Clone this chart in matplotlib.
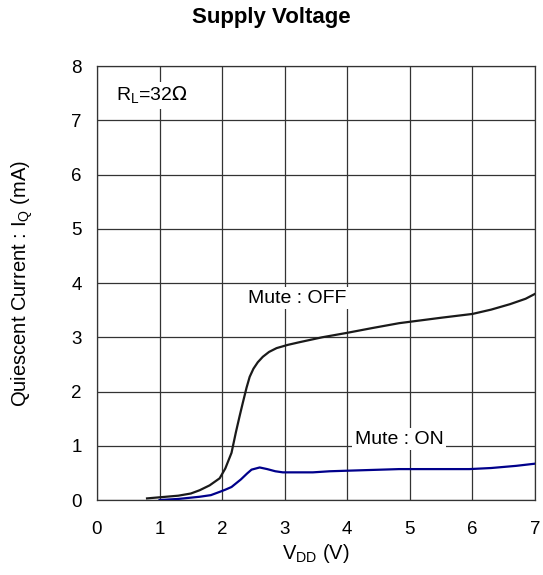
import matplotlib.pyplot as plt

plt.rcParams['font.family'] = ['Liberation Sans', 'DejaVu Sans']

# Mute : OFF curve
vdd_off = [0.8, 1.0, 1.3, 1.5, 1.64, 1.8, 1.96, 2.05, 2.15, 2.22, 2.28, 2.33, 2.39, 2.44, 2.5, 2.57,
           2.65, 2.75, 2.87, 3.05, 3.24, 3.6, 3.99, 4.4, 4.83, 5.5, 6.0, 6.3, 6.6, 6.85, 7.0]
iq_off = [0.03, 0.05, 0.08, 0.12, 0.18, 0.27, 0.40, 0.58, 0.87, 1.25, 1.55, 1.79, 2.07, 2.27, 2.42, 2.54,
          2.64, 2.73, 2.80, 2.86, 2.91, 3.00, 3.08, 3.17, 3.26, 3.36, 3.43, 3.51, 3.61, 3.71, 3.80]

# Mute : ON curve
vdd_on = [1.0, 1.3, 1.64, 1.82, 1.96, 2.05, 2.15, 2.3, 2.4, 2.47, 2.6, 2.72, 2.85, 2.97, 3.45, 3.72,
          3.99, 4.83, 5.95, 6.3, 6.7, 7.0]
iq_on = [0.0, 0.02, 0.06, 0.09, 0.15, 0.19, 0.24, 0.38, 0.49, 0.56, 0.60, 0.57, 0.53, 0.51, 0.51, 0.53,
         0.54, 0.57, 0.57, 0.59, 0.63, 0.67]

fig = plt.figure(figsize=(5.43, 5.75), dpi=100)
ax = fig.add_axes([0.1786, 0.1304, 0.8067, 0.7548])

ax.plot(vdd_off, iq_off, color='#1a1a1a', lw=1.6, zorder=3, solid_joinstyle='round')
ax.plot(vdd_on, iq_on, color='#00008b', lw=1.6, zorder=3, solid_joinstyle='round')

ax.set_xlim(0, 7)
ax.set_ylim(0, 8)
ax.set_xticks(range(0, 8))
ax.set_yticks(range(0, 9))
ax.grid(True, color='#333333', lw=0.9)
ax.tick_params(length=0, labelsize=13.5, colors='black')
ax.tick_params(axis='x', pad=15)
ax.tick_params(axis='y', pad=11)
for s in ax.spines.values():
    s.set_color('#333333')
    s.set_linewidth(0.9)

box = dict(facecolor='white', edgecolor='none', pad=2)
ax.text(0.3, 7.45, r'R$_\mathregular{L}$=32$\Omega$', fontsize=14, va='center', ha='left', bbox=box, zorder=4)
ax.text(3.2, 3.72, 'Mute : OFF', fontsize=14, ha='center', va='center', bbox=box, zorder=4)
ax.text(4.83, 1.12, 'Mute : ON', fontsize=14, ha='center', va='center', bbox=box, zorder=4)

ax.set_xlabel(r'V$_\mathregular{DD}$ (V)', fontsize=14.5, labelpad=3)
ax.set_ylabel(r'Quiescent Current : I$_\mathregular{Q}$ (mA)', fontsize=14.5, labelpad=26)
fig.suptitle('Supply Voltage', fontsize=16, fontweight='bold', y=0.988)

fig.savefig('out.png', dpi=100)
